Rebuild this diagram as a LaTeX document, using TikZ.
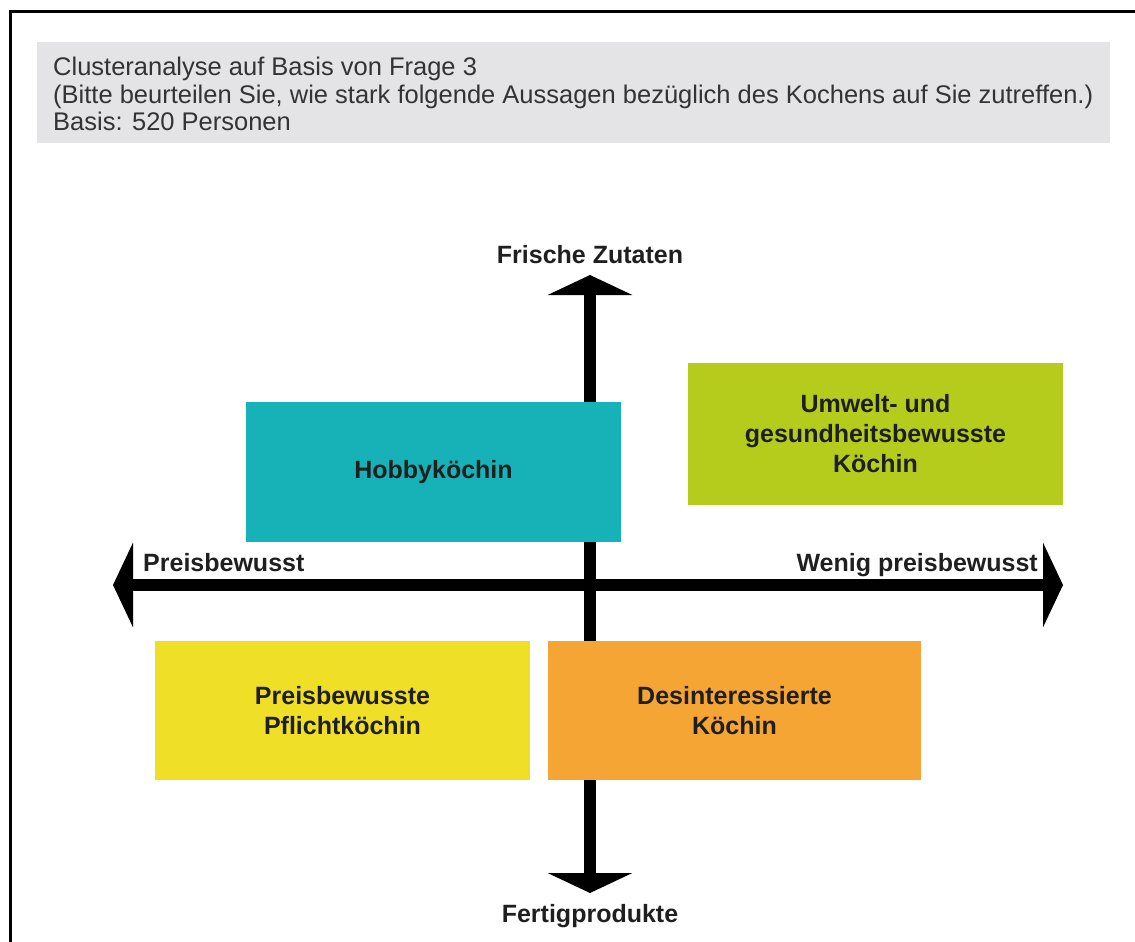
\documentclass[tikz,border=0pt]{standalone}
\usepackage{fontspec}
\setmainfont{Liberation Sans}
\usetikzlibrary{arrows.meta}
\definecolor{headgray}{HTML}{E4E4E6}
\definecolor{hobbyteal}{HTML}{17B2B8}
\definecolor{umweltlime}{HTML}{B6CC1C}
\definecolor{pflichtyellow}{HTML}{EFDF26}
\definecolor{desintorange}{HTML}{F5A533}

\begin{document}
\begin{tikzpicture}[x=1pt,y=-1pt,>={Triangle[length=20pt,width=84pt]},
    head/.style={anchor=base west,inner sep=0pt,text=black!80,font=\fontsize{25.5}{29}\selectfont},
    axislab/.style={inner sep=0pt,text=black!88,font=\fontsize{25}{30}\selectfont\bfseries},
    quad/.style={fill=#1,minimum width=375pt,minimum height=140pt,inner sep=0pt,align=center,
                 text=black!88,font=\fontsize{25}{30}\selectfont\bfseries}]
  \useasboundingbox (0,0) rectangle (1135,942);
  % frame and header
  \draw[line width=3pt] (1135,12) -- (10,12) -- (10,942);
  \fill[headgray] (37,42) rectangle (1110,143);
  \node[head] (h1) at (53,76) {Clusteranalyse auf Basis von Frage 3};
  \node[head] (h2) at (53,103) {(Bitte beurteilen Sie, wie stark folgende Aussagen bezüglich des Kochens auf Sie zutreffen.)};
  \node[head] (h3) at (53,130) {Basis: 520 Personen};
  % axes
  \coordinate (ytop) at (590,275);
  \coordinate (ybot) at (590,893);
  \coordinate (xleft) at (113,585);
  \coordinate (xright) at (1063,585);
  \draw[line width=12pt,<->] (ybot) -- (ytop);
  \draw[line width=12pt,<->] (xleft) -- (xright);
  \node[axislab,anchor=base] (fresh) at (590,263) {Frische Zutaten};
  \node[axislab,anchor=base] (fertig) at (590,922) {Fertigprodukte};
  \node[axislab,anchor=base west] (preis) at (143,571) {Preisbewusst};
  \node[axislab,anchor=base east] (wenig) at (1038,571) {Wenig preisbewusst};
  % clusters
  \node[quad=hobbyteal] (hobby) at (433.5,472) {Hobbyköchin};
  \node[quad=umweltlime,minimum height=142pt] (umwelt) at (875.5,434) {Umwelt- und\\gesundheitsbewusste\\Köchin};
  \node[quad=pflichtyellow,minimum height=139pt] (pflicht) at (342.5,710.5) {Preisbewusste\\Pflichtköchin};
  \node[quad=desintorange,minimum width=373pt,minimum height=139pt] (desint) at (734.5,710.5) {Desinteressierte\\Köchin};
\end{tikzpicture}
\end{document}
